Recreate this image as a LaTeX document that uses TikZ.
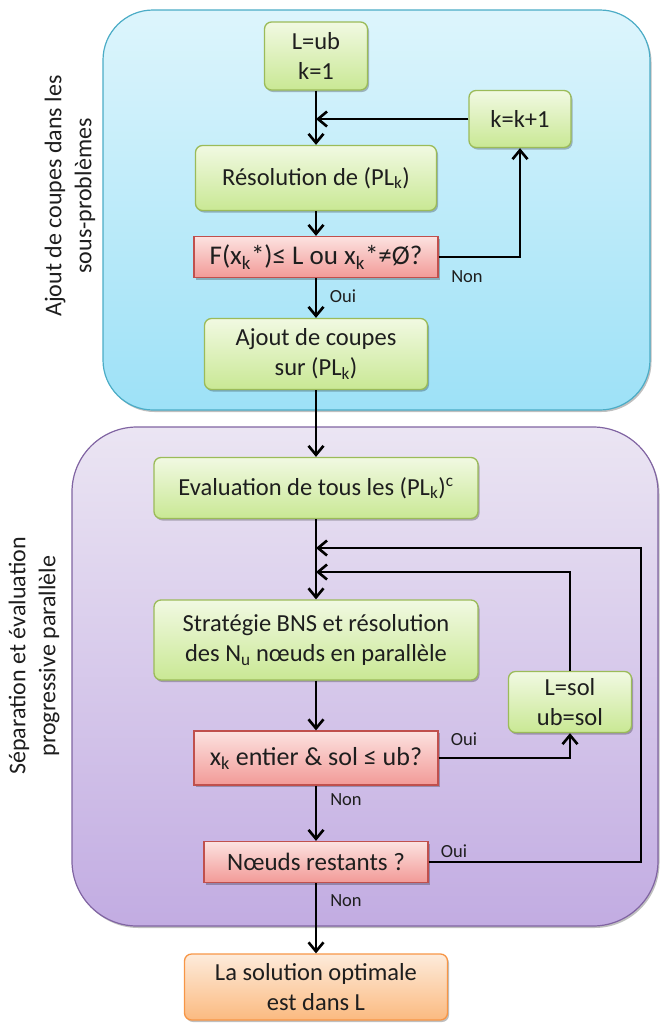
\documentclass[tikz,border=0pt]{standalone}
\usepackage{fontspec}
\setmainfont{Carlito}
\usetikzlibrary{arrows.meta,shadows,calc}
\definecolor{txt}{HTML}{1E1E1E}
\definecolor{gT}{HTML}{F1F9E2}
\definecolor{gB}{HTML}{C9E894}
\definecolor{gD}{HTML}{9BBB59}
\definecolor{rT}{HTML}{FCE2E0}
\definecolor{rB}{HTML}{F29A97}
\definecolor{rD}{HTML}{C0504D}
\definecolor{oT}{HTML}{FDEBDB}
\definecolor{oB}{HTML}{FBBA80}
\definecolor{oD}{HTML}{F79646}
\definecolor{cT}{HTML}{DDF5FC}
\definecolor{cB}{HTML}{9DE1F7}
\definecolor{cD}{HTML}{4BACC6}
\definecolor{pT}{HTML}{EBE5F3}
\definecolor{pB}{HTML}{C2ACE2}
\definecolor{pD}{HTML}{8064A2}
\begin{document}
\begin{tikzpicture}[x=1pt,y=-1pt,
  shad/.style={drop shadow={shadow xshift=1.5pt,shadow yshift=-2pt,opacity=0.25,fill=black}},
  greenbox/.style={shad,rounded corners=7pt,draw=gD,line width=1.3pt,top color=gT,bottom color=gB,
    align=center,text=txt,font=\fontsize{24.5}{30}\selectfont,inner sep=0pt},
  redbox/.style={shad,draw=rD,line width=1.3pt,top color=rT,bottom color=rB,
    align=center,text=txt,font=\fontsize{27}{30}\selectfont,inner sep=0pt},
  orangebox/.style={shad,rounded corners=7pt,draw=oD,line width=1.3pt,top color=oT,bottom color=oB,
    align=center,text=txt,font=\fontsize{24.5}{30}\selectfont,inner sep=0pt},
  panelC/.style={shad,rounded corners=50pt,draw=cD,line width=1.2pt,top color=cT,bottom color=cB},
  panelP/.style={shad,rounded corners=65pt,draw=pD,line width=1.2pt,top color=pT,bottom color=pB},
  side/.style={rotate=90,align=center,text=txt,font=\fontsize{24}{30}\selectfont},
  lab/.style={text=txt,font=\fontsize{18.5}{22}\selectfont,inner sep=0pt},
  arr/.style={line width=2.6pt,draw=black,-{Straight Barb[length=9pt,width=15pt]}}
]
\useasboundingbox (0,0) rectangle (659,1023);
% panels
\path[panelC] (103,10) rectangle (650,410);
\path[panelP] (72,427) rectangle (658,926);
% side labels
\node[side] (labA) at (70,196) {Ajout de coupes dans les\\sous-problèmes};
\node[side] (labB) at (34,656) {Séparation et évaluation\\progressive parallèle};
% nodes
\node[greenbox,minimum width=103pt,minimum height=68pt] (init) at (316,56) {L=ub\\k=1};
\node[greenbox,minimum width=102pt,minimum height=57pt] (kinc) at (520,119) {k=k+1};
\node[greenbox,minimum width=241pt,minimum height=65pt] (res) at (316,178) {Résolution de (PL\textsubscript{k})};
\node[redbox,minimum width=244pt,minimum height=41pt] (test1) at (316,257) {F(x\textsubscript{k}*)≤ L ou x\textsubscript{k}*≠Ø?};
\node[greenbox,minimum width=223pt,minimum height=71pt] (ajout) at (316,354) {Ajout de coupes\\sur (PL\textsubscript{k})};
\node[greenbox,minimum width=324pt,minimum height=61pt] (eval) at (316,488) {Evaluation de tous les (PL\textsubscript{k})\textsuperscript{c}};
\node[greenbox,minimum width=324pt,minimum height=80pt] (strat) at (316,640) {Stratégie BNS et résolution\\des N\textsubscript{u} nœuds en parallèle};
\node[greenbox,minimum width=123pt,minimum height=61pt] (lsol) at (570,702) {L=sol\\ub=sol};
\node[redbox,minimum width=244pt,minimum height=54pt,font=\fontsize{26}{30}\selectfont] (test2) at (316,758) {x\textsubscript{k} entier \& sol ≤ ub?};
\node[redbox,minimum width=224pt,minimum height=41pt,font=\fontsize{25}{30}\selectfont] (noeuds) at (316,862) {Nœuds restants ?};
\node[orangebox,minimum width=263pt,minimum height=66pt] (final) at (316,987) {La solution optimale\\est dans L};
% junction points
\coordinate (j1) at (316,548);
\coordinate (j2) at (316,572);
\coordinate (rr) at (641,548);
% connectors
\draw[arr] (init) -- (res);
\draw[arr] (kinc.west) -- (init.south |- kinc.west);
\draw[arr] (res) -- (test1);
\draw[arr] (test1.east) -| (kinc.south);
\draw[arr] (test1) -- (ajout);
\draw[arr] (ajout) -- (eval);
\draw[arr] (eval) -- (strat);
\draw[arr] (lsol.north) |- (j2);
\draw[arr] (strat) -- (test2);
\draw[arr] (test2.east) -| (lsol.south);
\draw[arr] (test2) -- (noeuds);
\draw[arr] (noeuds.east) -| (rr) -- (j1);
\draw[arr] (noeuds) -- (final);
% labels
\node[lab] (n1) at (467,277) {Non};
\node[lab] (o1) at (343,296) {Oui};
\node[lab] (o2) at (464,739) {Oui};
\node[lab] (n2) at (346,800) {Non};
\node[lab] (o3) at (454,851) {Oui};
\node[lab] (n3) at (346,901) {Non};
\end{tikzpicture}
\end{document}
